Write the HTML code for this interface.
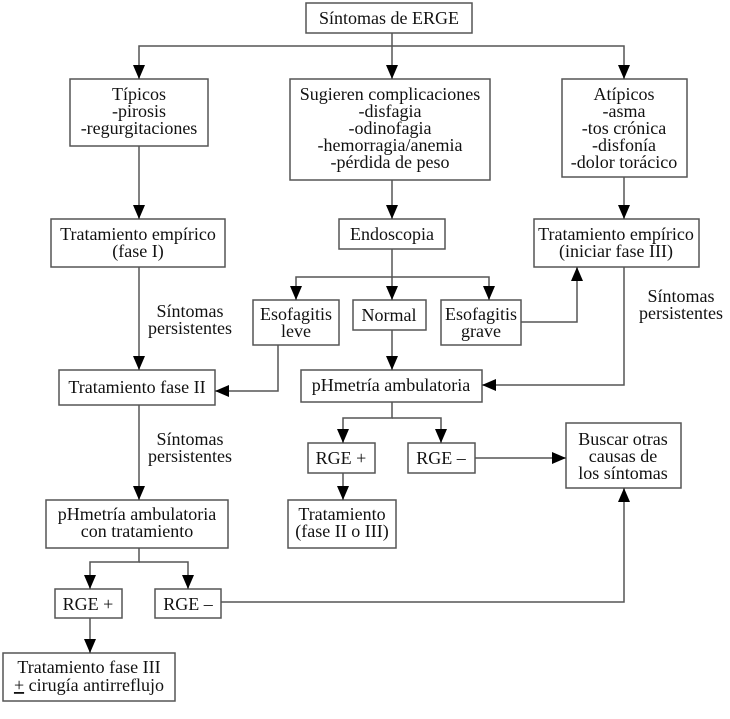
<!DOCTYPE html>
<html><head><meta charset="utf-8"><style>
html,body{margin:0;padding:0;background:#fff;}
svg text{font-family:"Liberation Serif",serif;font-size:18px;fill:#111;text-anchor:middle;}
</style></head><body>
<svg width="730" height="714" viewBox="0 0 730 714" xmlns="http://www.w3.org/2000/svg">
<defs><marker id="a" viewBox="0 0 14 12" refX="14" refY="6" markerWidth="14" markerHeight="12" markerUnits="userSpaceOnUse" orient="auto"><path d="M0,0 L14,6 L0,12 z" fill="#000"/></marker></defs>
<g fill="none" stroke="#555" stroke-width="1.5">
<rect x="306" y="3" width="166" height="30"/>
<rect x="70" y="79" width="138" height="67"/>
<rect x="290" y="79" width="200" height="101"/>
<rect x="562" y="79" width="125" height="98"/>
<rect x="51" y="219" width="174" height="48"/>
<rect x="339" y="219" width="106" height="30"/>
<rect x="534" y="219" width="165" height="48"/>
<rect x="253" y="300" width="86" height="45"/>
<rect x="353" y="300" width="73" height="30"/>
<rect x="441" y="300" width="80" height="45"/>
<rect x="59" y="370" width="156" height="35"/>
<rect x="301" y="370" width="181" height="32"/>
<rect x="308" y="443" width="67" height="30"/>
<rect x="408" y="443" width="67" height="30"/>
<rect x="566" y="423" width="115" height="65"/>
<rect x="288" y="500" width="108" height="48"/>
<rect x="46" y="500" width="182" height="48"/>
<rect x="55" y="589" width="67" height="29"/>
<rect x="155" y="589" width="66" height="29"/>
<rect x="3" y="653" width="172" height="48"/>
<g marker-end="url(#a)">
<path d="M392,33 V79"/>
<path d="M392,46 H139 V79"/>
<path d="M392,46 H624 V79"/>
<path d="M139,146 V219"/>
<path d="M392,180 V219"/>
<path d="M624,177 V219"/>
<path d="M392,249 V300"/>
<path d="M392,277 H296 V300"/>
<path d="M392,277 H489 V300"/>
<path d="M521,322 H577 V267"/>
<path d="M139,267 V370"/>
<path d="M278,345 V391 H215"/>
<path d="M624,267 V385 H482"/>
<path d="M392,330 V370"/>
<path d="M392,402 V418 H343 V443"/>
<path d="M392,418 H441 V443"/>
<path d="M475,458 H566"/>
<path d="M343,473 V500"/>
<path d="M139,405 V500"/>
<path d="M139,548 V562 H90 V589"/>
<path d="M139,562 H188 V589"/>
<path d="M221,602 H624 V488"/>
<path d="M90,618 V653"/>
</g></g>
<text x="389" y="24">Síntomas de ERGE</text>
<text x="139" y="100">Típicos</text><text x="139" y="117">-pirosis</text><text x="139" y="134">-regurgitaciones</text>
<text x="390" y="100">Sugieren complicaciones</text><text x="390" y="117">-disfagia</text><text x="390" y="134">-odinofagia</text><text x="390" y="151">-hemorragia/anemia</text><text x="390" y="168">-pérdida de peso</text>
<text x="624" y="100">Atípicos</text><text x="624" y="117">-asma</text><text x="624" y="134">-tos crónica</text><text x="624" y="151">-disfonía</text><text x="624" y="168">-dolor torácico</text>
<text x="138" y="240">Tratamiento empírico</text><text x="138" y="257">(fase I)</text>
<text x="392" y="240">Endoscopia</text>
<text x="616" y="240">Tratamiento empírico</text><text x="616" y="257">(iniciar fase III)</text>
<text x="296" y="320">Esofagitis</text><text x="296" y="337">leve</text>
<text x="389" y="321">Normal</text>
<text x="481" y="320">Esofagitis</text><text x="481" y="337">grave</text>
<text x="190" y="317">Síntomas</text><text x="190" y="334">persistentes</text>
<text x="681" y="302">Síntomas</text><text x="681" y="319">persistentes</text>
<text x="137" y="393">Tratamiento fase II</text>
<text x="391" y="391">pHmetría ambulatoria</text>
<text x="190" y="445">Síntomas</text><text x="190" y="462">persistentes</text>
<text x="341" y="464">RGE +</text>
<text x="441" y="464">RGE –</text>
<text x="623" y="445">Buscar otras</text><text x="623" y="462">causas de</text><text x="623" y="479">los síntomas</text>
<text x="342" y="520">Tratamiento</text><text x="342" y="537">(fase II o III)</text>
<text x="137" y="520">pHmetría ambulatoria</text><text x="137" y="537">con tratamiento</text>
<text x="88" y="610">RGE +</text>
<text x="188" y="610">RGE –</text>
<text x="89" y="673">Tratamiento fase III</text><text x="89" y="691"><tspan text-decoration="underline">+</tspan> cirugía antirreflujo</text>
</svg>
</body></html>
